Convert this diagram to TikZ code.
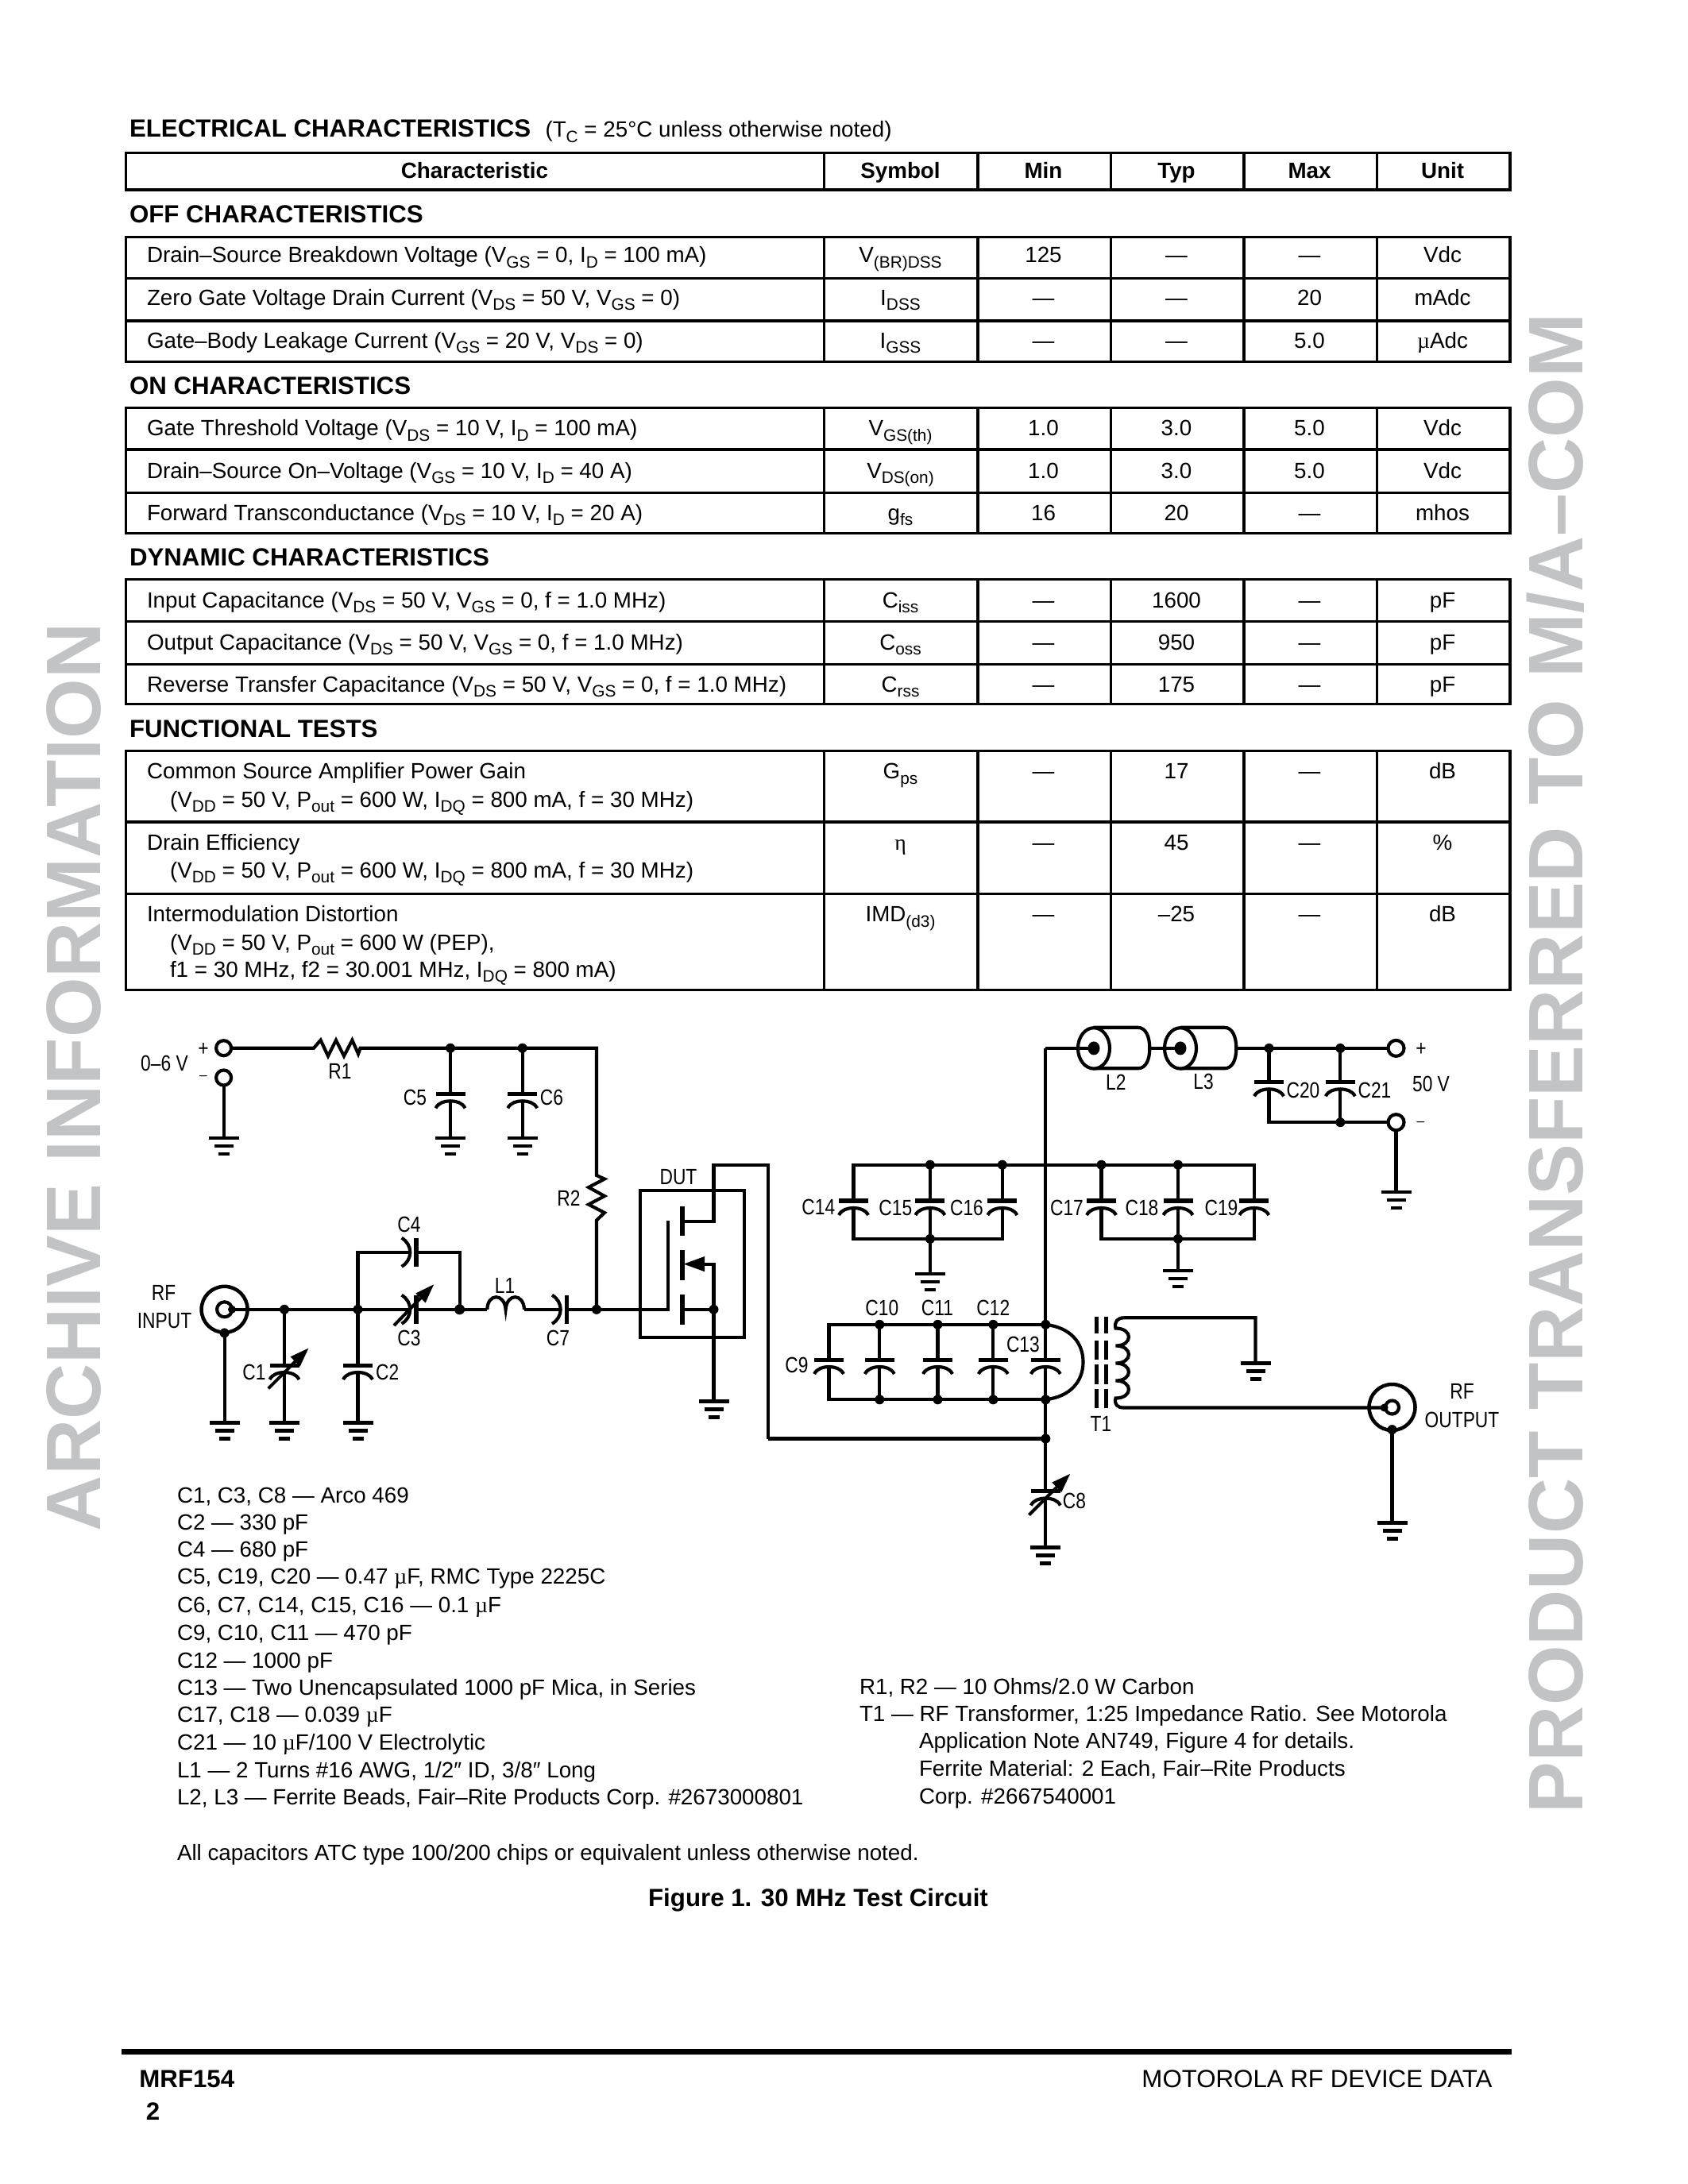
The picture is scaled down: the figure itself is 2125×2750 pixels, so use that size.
\documentclass[tikz,border=0pt]{standalone}
\usepackage{fontspec}
\usetikzlibrary{arrows.meta}
\setmainfont{Liberation Sans}
\newfontfamily\condf[FakeStretch=0.82]{Liberation Sans}
\newfontfamily\symf{Liberation Serif}
\definecolor{wmark}{HTML}{C1C3C5}
\newcommand\sbs[1]{\raisebox{-1.8bp}{\fontsize{6bp}{6bp}\selectfont #1}}
\newcommand\muu{{\symf\textmu}}
\tikzset{
  tx/.style={inner sep=0pt,outer sep=0pt,font=\fontsize{8bp}{10bp}\selectfont},
  txb/.style={inner sep=0pt,outer sep=0pt,font=\fontsize{8bp}{10bp}\selectfont\bfseries},
  hd/.style={inner sep=0pt,outer sep=0pt,font=\fontsize{9bp}{11bp}\selectfont\bfseries},
  nine/.style={inner sep=0pt,outer sep=0pt,font=\fontsize{9bp}{11bp}\selectfont},
  lb/.style={inner sep=0pt,outer sep=0pt,font=\fontsize{8bp}{10bp}\selectfont\condf},
  lbm/.style={inner sep=0pt,outer sep=0pt,font=\fontsize{5bp}{6bp}\selectfont},
  wm/.style={inner sep=0pt,outer sep=0pt,text=wmark,rotate=90,anchor=base west,font=\fontsize{28bp}{30bp}\selectfont\bfseries},
  tblline/.style={line width=0.95bp},
  wire/.style={line width=1.2bp},
  plate/.style={line width=1.45bp},
  bar/.style={line width=1.25bp},
  varrow/.style={line width=1.15bp,-{Triangle[length=7bp,width=4.6bp]}}
}
% ground: name, x, y of top bar
\newcommand\gndsym[3]{%
  \coordinate (#1) at (#2,#3);
  \draw[bar] (#2-19,#3)--(#2+19,#3);
  \draw[bar] (#2-12,#3+10)--(#2+12,#3+10);
  \draw[bar] (#2-7,#3+20)--(#2+7,#3+20);
}
% capacitor in a vertical wire: name, x, y of the plate
\newcommand\vcapsym[3]{%
  \coordinate (#1t) at (#2,#3);
  \coordinate (#1b) at (#2,#3+9);
  \draw[plate] (#2-18.5,#3)--(#2+18.5,#3);
  \draw[wire] (#2-18.5,#3+18) .. controls (#2-15,#3+11) and (#2-7,#3+9) .. (#2,#3+9)
     .. controls (#2+7,#3+9) and (#2+15,#3+11) .. (#2+18.5,#3+18);
}
% capacitor in a horizontal wire: name, x of curve ends, y
\newcommand\hcapsym[3]{%
  \coordinate (#1l) at (#2+10.7,#3);
  \coordinate (#1r) at (#2+18.4,#3);
  \draw[wire] (#2,#3-18) .. controls (#2+7,#3-14) and (#2+10.7,#3-7) .. (#2+10.7,#3)
     .. controls (#2+10.7,#3+7) and (#2+7,#3+14) .. (#2,#3+18);
  \draw[plate] (#2+18.4,#3-18)--(#2+18.4,#3+18);
}
% junction dot on a named coordinate
\newcommand\jdot[1]{\fill (#1) circle[radius=6];}
% table group: top, bottom, list of inner lines
\newcommand\tblgroup[3]{%
  \draw[tblline] (158.7,#1) rectangle (1901,#2);
  \foreach \yy in {#3} {\draw[tblline] (158.7,\yy)--(1901,\yy);}
  \foreach \xx in {1037.6,1231,1398.2,1566,1733.2} {\draw[tblline] (\xx,#1)--(\xx,#2);}
}
% table row values: baseline, symbol, min, typ, max, unit
\newcommand\vals[6]{%
  \node[tx,anchor=base] (sym#1) at (1133.5,#1) {#2};
  \node[tx,anchor=base] (min#1) at (1313.5,#1) {#3};
  \node[tx,anchor=base] (typ#1) at (1481,#1) {#4};
  \node[tx,anchor=base] (max#1) at (1648.5,#1) {#5};
  \node[tx,anchor=base] (unit#1) at (1816,#1) {#6};
}
\newcommand\chr[2]{\node[tx,anchor=base west] (chr#1) at (185,#1) {#2};}
\newcommand\chrb[2]{\node[tx,anchor=base west] (chrb#1) at (214,#1) {#2};}
\newcommand\lgd[2]{\node[tx,anchor=base west] (lgd#1) at (223,#1) {#2};}
\begin{document}
\begin{tikzpicture}[x=0.288bp,y=-0.288bp]
\useasboundingbox (0,0) rectangle (2125,2750);
\fill[white] (0,0) rectangle (2125,2750);
% watermarks
\node[wm] (wmL) at (126,1928) {ARCHIVE INFORMATION};
\node[wm] (wmR) at (1992,2283) {PRODUCT TRANSFERRED TO M/A–COM};
% heading
\node[hd,anchor=base west] (title) at (163,173) {ELECTRICAL CHARACTERISTICS};
\node[tx,anchor=base west] (titlenote) at (686.5,173) {(T\sbs{C} = 25°C unless otherwise noted)};
% header row
\tblgroup{192.4}{239}{}
\node[txb,anchor=base] (hChar) at (597.5,225) {Characteristic};
\node[txb,anchor=base] (hSym) at (1133.5,225) {Symbol};
\node[txb,anchor=base] (hMin) at (1313.5,225) {Min};
\node[txb,anchor=base] (hTyp) at (1481,225) {Typ};
\node[txb,anchor=base] (hMax) at (1648.5,225) {Max};
\node[txb,anchor=base] (hUnit) at (1816,225) {Unit};
% OFF
\node[hd,anchor=base west] (secOff) at (163,280.6) {OFF CHARACTERISTICS};
\tblgroup{298.6}{455.7}{350.2,404}
\chr{331}{Drain–Source Breakdown Voltage (V\sbs{GS} = 0, I\sbs{D} = 100 mA)}
\vals{331}{V\sbs{(BR)DSS}}{125}{—}{—}{Vdc}
\chr{384.5}{Zero Gate Voltage Drain Current (V\sbs{DS} = 50 V, V\sbs{GS} = 0)}
\vals{384.5}{I\sbs{DSS}}{—}{—}{20}{mAdc}
\chr{438.5}{Gate–Body Leakage Current (V\sbs{GS} = 20 V, V\sbs{DS} = 0)}
\vals{438.5}{I\sbs{GSS}}{—}{—}{5.0}{\muu Adc}
% ON
\node[hd,anchor=base west] (secOn) at (163,496.6) {ON CHARACTERISTICS};
\tblgroup{513.8}{671.6}{566,620.7}
\chr{549}{Gate Threshold Voltage (V\sbs{DS} = 10 V, I\sbs{D} = 100 mA)}
\vals{549}{V\sbs{GS(th)}}{1.0}{3.0}{5.0}{Vdc}
\chr{602}{Drain–Source On–Voltage (V\sbs{GS} = 10 V, I\sbs{D} = 40 A)}
\vals{602}{V\sbs{DS(on)}}{1.0}{3.0}{5.0}{Vdc}
\chr{655}{Forward Transconductance (V\sbs{DS} = 10 V, I\sbs{D} = 20 A)}
\vals{655}{g\sbs{fs}}{16}{20}{—}{mhos}
% DYNAMIC
\node[hd,anchor=base west] (secDyn) at (163,712.5) {DYNAMIC CHARACTERISTICS};
\tblgroup{729.7}{886.8}{782.8,836.6}
\chr{765.6}{Input Capacitance (V\sbs{DS} = 50 V, V\sbs{GS} = 0, f = 1.0 MHz)}
\vals{765.6}{C\sbs{iss}}{—}{1600}{—}{pF}
\chr{818.6}{Output Capacitance (V\sbs{DS} = 50 V, V\sbs{GS} = 0, f = 1.0 MHz)}
\vals{818.6}{C\sbs{oss}}{—}{950}{—}{pF}
\chr{871}{Reverse Transfer Capacitance (V\sbs{DS} = 50 V, V\sbs{GS} = 0, f = 1.0 MHz)}
\vals{871}{C\sbs{rss}}{—}{175}{—}{pF}
% FUNCTIONAL
\node[hd,anchor=base west] (secFun) at (163,928.4) {FUNCTIONAL TESTS};
\tblgroup{945.6}{1246.5}{1035,1125.7}
\chr{980.8}{Common Source Amplifier Power Gain}
\chrb{1016}{(V\sbs{DD} = 50 V, P\sbs{out} = 600 W, I\sbs{DQ} = 800 mA, f = 30 MHz)}
\vals{980.8}{G\sbs{ps}}{—}{17}{—}{dB}
\chr{1070.4}{Drain Efficiency}
\chrb{1105.6}{(V\sbs{DD} = 50 V, P\sbs{out} = 600 W, I\sbs{DQ} = 800 mA, f = 30 MHz)}
\vals{1070.4}{{\symf η}}{—}{45}{—}{\%}
\chr{1160.8}{Intermodulation Distortion}
\chrb{1196}{(V\sbs{DD} = 50 V, P\sbs{out} = 600 W (PEP),}
\chrb{1230.4}{f1 = 30 MHz, f2 = 30.001 MHz, I\sbs{DQ} = 800 mA)}
\vals{1160.8}{IMD\sbs{(d3)}}{—}{–25}{—}{dB}

% ---------- circuit: input bias ----------
\coordinate (Tp) at (281.6,1319.7);
\coordinate (Tm) at (281.6,1357);
\coordinate (Jc5) at (567,1319.7);
\coordinate (Jc6) at (657.7,1319.7);
\coordinate (Cr) at (751,1319.7);
\coordinate (R1a) at (395,1319.7);
\coordinate (R1b) at (453.6,1319.7);
\coordinate (R2a) at (751,1480);
\coordinate (R2b) at (751,1536.5);
\coordinate (Jg) at (751,1648.8);
\gndsym{Gm}{281.6}{1433}
\vcapsym{C5}{567}{1377.3}
\vcapsym{C6}{657.7}{1377.3}
\gndsym{G5}{567}{1433}
\gndsym{G6}{657.7}{1433}
\draw[wire] (Tp)--(R1a) -- (403.6,1309.7)--(413,1329.7)--(423,1309.7)--(433,1329.7)--(443.4,1309.7)--(451,1327)--(R1b) -- (Jc5)--(Jc6)--(Cr)--(R2a)
   -- (761,1484.5)--(741,1495)--(761,1506)--(741,1516.6)--(761,1527)--(R2b)--(Jg);
\draw[wire] (Tm)--(Gm);
\draw[wire] (Jc5)--(C5t) (C5b)--(G5);
\draw[wire] (Jc6)--(C6t) (C6b)--(G6);
\jdot{Jc5}\jdot{Jc6}
\draw[wire,fill=white] (Tp) circle[radius=9.5];
\draw[wire,fill=white] (Tm) circle[radius=9.5];
\node[lb] (l06) at (207,1339) {0–6 V};
\node[lb] (lplus) at (256,1321) {+};
\node[lbm] (lminus) at (256,1357) {–};
\node[lb] (lR1) at (428,1349) {R1};
\node[lb] (lC5) at (522.4,1382.4) {C5};
\node[lb] (lC6) at (694.4,1382.4) {C6};
\node[lb] (lR2) at (716,1509) {R2};

% ---------- circuit: RF input ----------
\coordinate (Co) at (282.6,1648.8);
\coordinate (Ci) at (292,1648.8);
\coordinate (Cs) at (282.6,1678.4);
\coordinate (Jc1) at (358,1648.8);
\coordinate (Jc2) at (450.5,1648.8);
\coordinate (Jc3) at (578.6,1648.8);
\coordinate (C4ul) at (450.5,1576.8);
\coordinate (C4ur) at (578.6,1576.8);
\coordinate (L1a) at (613.3,1648.8);
\coordinate (L1m) at (636.6,1648.8);
\coordinate (L1b) at (660,1648.8);
\draw[line width=1.3bp] (Co) circle[radius=29];
\draw[wire] (282.6,1648.8) circle[radius=9.5];
\fill (Ci) circle[radius=5];
\fill (Cs) circle[radius=6];
\gndsym{Gc}{282.6}{1791.6}
\gndsym{G1}{358}{1791.6}
\gndsym{G2}{450.5}{1791.6}
\vcapsym{C1}{358}{1719}
\vcapsym{C2}{450.5}{1719}
\hcapsym{C4}{505.6}{1576.8}
\hcapsym{C3}{505.6}{1648.8}
\hcapsym{C7}{695}{1648.8}
\draw[wire] (Ci)--(Jc1)--(Jc2)--(C3l) (C3r)--(Jc3)--(L1a);
\draw[wire] (L1a) .. controls (614,1628) and (635,1628) .. (L1m) .. controls (638,1628) and (659,1628) .. (L1b);
\draw[wire] (L1b)--(C7l) (C7r)--(Jg);
\draw[wire] (Jc2)--(C4ul)--(C4l) (C4r)--(C4ur)--(Jc3);
\draw[wire] (Cs)--(Gc);
\draw[wire] (Jc1)--(C1t) (C1b)--(G1);
\draw[wire] (Jc2)--(C2t) (C2b)--(G2);
\coordinate (A1a) at (337.8,1748.3); \coordinate (A1b) at (388.8,1697.2);
\coordinate (A3a) at (496,1669); \coordinate (A3b) at (546.4,1617);
\draw[varrow] (A1a)--(A1b);
\draw[varrow] (A3a)--(A3b);
\jdot{Jc1}\jdot{Jc2}\jdot{Jg}
\fill (Jc3) circle[radius=6.5];
\node[lb] (lRF) at (206,1628.4) {RF};
\node[lb] (lINPUT) at (207,1663) {INPUT};
\node[lb] (lC1) at (320,1728) {C1};
\node[lb] (lC2) at (487.8,1728) {C2};
\node[lb] (lC3) at (515,1684.5) {C3};
\node[lb] (lC4) at (515,1541.6) {C4};
\node[lb] (lL1) at (635.5,1618.7) {L1};
\node[lb] (lC7) at (702.5,1684.5) {C7};

% ---------- circuit: DUT ----------
\draw[line width=1.15bp] (806,1498.8) rectangle (936.7,1683.5);
\coordinate (Gt) at (841.3,1537);
\coordinate (Gb) at (841.3,1648.8);
\coordinate (Dr) at (859,1538);
\coordinate (Dc) at (898.5,1538);
\coordinate (Dt) at (898.5,1466.7);
\coordinate (Dk) at (967,1466.7);
\coordinate (Dl) at (967,1811.5);
\coordinate (Ss) at (859,1648.8);
\coordinate (Sj) at (898.5,1648.8);
\coordinate (Bt) at (898.5,1591.6);
\coordinate (Bh) at (887,1591.6);
\gndsym{Gd}{898.5}{1764.6}
\draw[wire] (Jg)--(Gb)--(Gt);
\draw[plate] (859,1519)--(859,1556);
\draw[plate] (859,1573.8)--(859,1612);
\draw[plate] (859,1630)--(859,1668);
\draw[wire] (Bh)--(Bt)--(Sj)--(Gd) (Ss)--(Sj);
\fill (860.7,1591.6)--(887,1582)--(887,1601.2)--cycle;
\jdot{Sj}
\draw[wire] (Dr)--(Dc)--(Dt)--(Dk)--(Dl);
\node[lb] (lDUT) at (854,1482) {DUT};

\begin{scope}[shift={(1.5,0.5)}]
% ---------- circuit: output supply ----------
\coordinate (Mt) at (1314.8,1319.4);
\coordinate (Rt) at (1314.8,1667.3);
\coordinate (Rb) at (1314.8,1761.8);
\coordinate (Jd) at (1314.8,1811);
\coordinate (B2c) at (1375.5,1319.4);
\coordinate (B2r) at (1445.8,1319.4);
\coordinate (B3c) at (1484.5,1319.4);
\coordinate (B3r) at (1554.8,1319.4);
\coordinate (Jc20) at (1596,1319.4);
\coordinate (Jc21) at (1685.8,1319.4);
\coordinate (Vp) at (1756,1319.4);
\coordinate (Vm) at (1756,1412.7);
\coordinate (Jb21) at (1685.8,1412.7);
\coordinate (Kb20) at (1596,1412.7);
\gndsym{Gv}{1756}{1500.6}
\vcapsym{C20}{1596}{1361.8}
\vcapsym{C21}{1685.8}{1361.8}
\draw[wire] (B3r)--(Jc20)--(Jc21)--(Vp);
\draw[wire] (Jc20)--(C20t) (C20b)--(Kb20)--(Jb21)--(Vm);
\draw[wire] (Jc21)--(C21t) (C21b)--(Jb21);
\draw[wire] (Vm)--(Gv);
\draw[wire] (1375.5,1293.3)--(1431,1293.3) .. controls (1441,1293.3) and (1445.8,1305) .. (B2r)
   .. controls (1445.8,1334) and (1441,1344.8) .. (1431,1344.8)--(1375.5,1344.8);
\draw[wire] (1484.5,1293.3)--(1540,1293.3) .. controls (1550,1293.3) and (1554.8,1305) .. (B3r)
   .. controls (1554.8,1334) and (1550,1344.8) .. (1540,1344.8)--(1484.5,1344.8);
\draw[line width=1.2bp,fill=white] (B2c) circle[x radius=20,y radius=25.7];
\draw[line width=1.2bp,fill=white] (B3c) circle[x radius=20,y radius=25.7];
\draw[wire] (Mt)--(B2c);
\draw[wire] (B2r)--(B3c);
\fill (B2c) circle[x radius=7.5,y radius=8.5];
\fill (B3c) circle[x radius=7.5,y radius=8.5];
\jdot{Jc20}\jdot{Jc21}\jdot{Jb21}
\draw[wire,fill=white] (Vp) circle[radius=10];
\draw[wire,fill=white] (Vm) circle[radius=10];
\node[lb] (lL2) at (1403.3,1361.8) {L2};
\node[lb] (lL3) at (1513.6,1361.8) {L3};
\node[lb] (lC20) at (1639,1372) {C20};
\node[lb] (lC21) at (1729,1372) {C21};
\node[lb] (lp50) at (1787.6,1320.6) {+};
\node[lb] (l50) at (1800,1364) {50 V};
\node[lbm] (lm50) at (1787,1414) {–};

% ---------- circuit: C14..C19 bank ----------
\coordinate (Ua) at (1073,1466.2);
\coordinate (Ub) at (1169.4,1466.2);
\coordinate (Uc) at (1260.3,1466.2);
\coordinate (Ud) at (1385,1466.2);
\coordinate (Ue) at (1481.5,1466.2);
\coordinate (Uf) at (1577.3,1466.2);
\coordinate (Va) at (1073,1559.4);
\coordinate (Vb) at (1169.4,1559.4);
\coordinate (Vc) at (1260.3,1559.4);
\coordinate (Vd) at (1385,1559.4);
\coordinate (Ve) at (1481.5,1559.4);
\coordinate (Vf) at (1577.3,1559.4);
\vcapsym{C14}{1073}{1511.5}
\vcapsym{C15}{1169.4}{1511.5}
\vcapsym{C16}{1260.3}{1511.5}
\vcapsym{C17}{1385}{1511.5}
\vcapsym{C18}{1481.5}{1511.5}
\vcapsym{C19}{1577.3}{1511.5}
\gndsym{Gu}{1169.4}{1603.6}
\gndsym{Gw}{1481.5}{1599.4}
\draw[wire] (C14t)--(Ua)--(Uf)--(C19t);
\draw[wire] (C19b)--(Vf)--(Vd)--(C17b);
\draw[wire] (C14b)--(Va)--(Vc)--(C16b);
\draw[wire] (Ub)--(C15t) (C15b)--(Vb)--(Gu);
\draw[wire] (Uc)--(C16t);
\draw[wire] (Ud)--(C17t);
\draw[wire] (Ue)--(C18t) (C18b)--(Ve)--(Gw);
\jdot{Ub}\jdot{Uc}\jdot{Ud}\jdot{Ue}\jdot{Vb}\jdot{Ve}
\node[lb] (lC14) at (1028.8,1519) {C14};
\node[lb] (lC15) at (1125.8,1520.6) {C15};
\node[lb] (lC16) at (1215.5,1520.6) {C16};
\node[lb] (lC17) at (1341.5,1520.6) {C17};
\node[lb] (lC18) at (1436,1520.6) {C18};
\node[lb] (lC19) at (1536,1520.6) {C19};

% ---------- circuit: C9..C13 bank, T1, C8 ----------
\coordinate (Ta) at (1042,1667.3);
\coordinate (Tb) at (1105.8,1667.3);
\coordinate (Tc) at (1179,1667.3);
\coordinate (Td) at (1248.8,1667.3);
\coordinate (Ba) at (1042,1761.8);
\coordinate (Bb) at (1105.8,1761.8);
\coordinate (Bc) at (1179,1761.8);
\coordinate (Bd) at (1248.8,1761.8);
\vcapsym{C9}{1042}{1711.5}
\vcapsym{C10}{1105.8}{1711.5}
\vcapsym{C11}{1179}{1711.5}
\vcapsym{C12}{1248.8}{1711.5}
\vcapsym{C13}{1314.8}{1711.5}
\vcapsym{C8}{1314.8}{1877}
\gndsym{G8}{1314.8}{1948}
\draw[wire] (C9t)--(Ta)--(Rt) (C9b)--(Ba)--(Rb);
\draw[wire] (Tb)--(C10t) (C10b)--(Bb);
\draw[wire] (Tc)--(C11t) (C11b)--(Bc);
\draw[wire] (Td)--(C12t) (C12b)--(Bd);
\draw[wire] (Mt)--(Rt)--(C13t) (C13b)--(Rb)--(Jd)--(C8t) (C8b)--(G8);
\draw[wire] (Rt) .. controls (1346,1671) and (1362,1690) .. (1362,1714.5) .. controls (1362,1739) and (1346,1758) .. (Rb);
\draw[wire] (Dl)--(Jd);
\coordinate (A8a) at (1294,1907); \coordinate (A8b) at (1346,1855);
\draw[varrow] (A8a)--(A8b);
\jdot{Tb}\jdot{Tc}\jdot{Td}\jdot{Rt}\jdot{Bb}\jdot{Bc}\jdot{Bd}\jdot{Rb}\jdot{Jd}
\node[lb] (lC9) at (1001.5,1718.8) {C9};
\node[lb] (lC10) at (1108.8,1646) {C10};
\node[lb] (lC11) at (1178.5,1646) {C11};
\node[lb] (lC12) at (1248.8,1646) {C12};
\node[lb] (lC13) at (1286.4,1692) {C13};
\node[lb] (lC8) at (1351,1889) {C8};
% T1 core
\foreach \cx in {1378.5,1390.6} {
  \draw[plate] (\cx,1657)--(\cx,1678);
  \draw[plate] (\cx,1687)--(\cx,1711.5);
  \draw[plate] (\cx,1717.6)--(\cx,1742);
  \draw[plate] (\cx,1748)--(\cx,1772);
}
% T1 winding
\coordinate (Wt) at (1413.6,1658.8);
\coordinate (Wk) at (1579,1658.8);
\coordinate (Wb) at (1413.6,1772);
\coordinate (Oi) at (1741,1772);
\coordinate (Oc) at (1751,1771.5);
\coordinate (Os) at (1751,1799.6);
\gndsym{Gt1}{1579}{1716}
\gndsym{Go}{1751}{1917}
\draw[wire] (Gt1)--(Wk)--(Wt) .. controls (1405,1658.8) and (1401,1664) .. (1403,1672)
  .. controls (1425,1672) and (1425,1694) .. (1403,1694)
  .. controls (1425,1694) and (1425,1716) .. (1403,1716)
  .. controls (1425,1716) and (1425,1738) .. (1403,1738)
  .. controls (1425,1738) and (1425,1760) .. (1403,1760)
  .. controls (1401,1768) and (1405,1772) .. (Wb)--(Oi);
\draw[line width=1.3bp] (Oc) circle[radius=29];
\draw[wire] (1751,1771.5) circle[radius=8.5];
\fill (Oi) circle[radius=5];
\fill (Os) circle[radius=6];
\draw[wire] (Os)--(Go);
\node[lb] (lT1) at (1384.5,1792) {T1};
\node[lb] (lRFo) at (1839,1751) {RF};
\node[lb] (lOUT) at (1839,1787) {OUTPUT};
\end{scope}

% ---------- legend ----------
\lgd{1892}{C1, C3, C8 — Arco 469}
\lgd{1926.7}{C2 — 330 pF}
\lgd{1960.6}{C4 — 680 pF}
\lgd{1994.5}{C5, C19, C20 — 0.47 \muu F, RMC Type 2225C}
\lgd{2030}{C6, C7, C14, C15, C16 — 0.1 \muu F}
\lgd{2065}{C9, C10, C11 — 470 pF}
\lgd{2100}{C12 — 1000 pF}
\lgd{2134}{C13 — Two Unencapsulated 1000 pF Mica, in Series}
\lgd{2168}{C17, C18 — 0.039 \muu F}
\lgd{2203}{C21 — 10 \muu F/100 V Electrolytic}
\lgd{2238}{L1 — 2 Turns \#16 AWG, 1/2″ ID, 3/8″ Long}
\lgd{2272}{L2, L3 — Ferrite Beads, Fair–Rite Products Corp. \#2673000801}
\lgd{2342}{All capacitors ATC type 100/200 chips or equivalent unless otherwise noted.}
\node[tx,anchor=base west] (rr1) at (1082,2133) {R1, R2 — 10 Ohms/2.0 W Carbon};
\node[tx,anchor=base west] (rr2) at (1082,2167) {T1 — RF Transformer, 1:25 Impedance Ratio. See Motorola};
\node[tx,anchor=base west] (rr3) at (1157,2201.5) {Application Note AN749, Figure 4 for details.};
\node[tx,anchor=base west] (rr4) at (1157,2236.5) {Ferrite Material: 2 Each, Fair–Rite Products};
\node[tx,anchor=base west] (rr5) at (1157,2271) {Corp. \#2667540001};
\node[hd,anchor=base] (figcap) at (1030,2400) {Figure 1. 30 MHz Test Circuit};
% footer
\draw[line width=1.9bp] (153,2583.6)--(1903,2583.6);
\node[hd,anchor=base west] (fMRF) at (175.4,2628.5) {MRF154};
\node[hd,anchor=base west] (fPage) at (183.8,2669.7) {2};
\node[nine,anchor=base east] (fMot) at (1878.5,2628.5) {MOTOROLA RF DEVICE DATA};
\end{tikzpicture}
\end{document}
